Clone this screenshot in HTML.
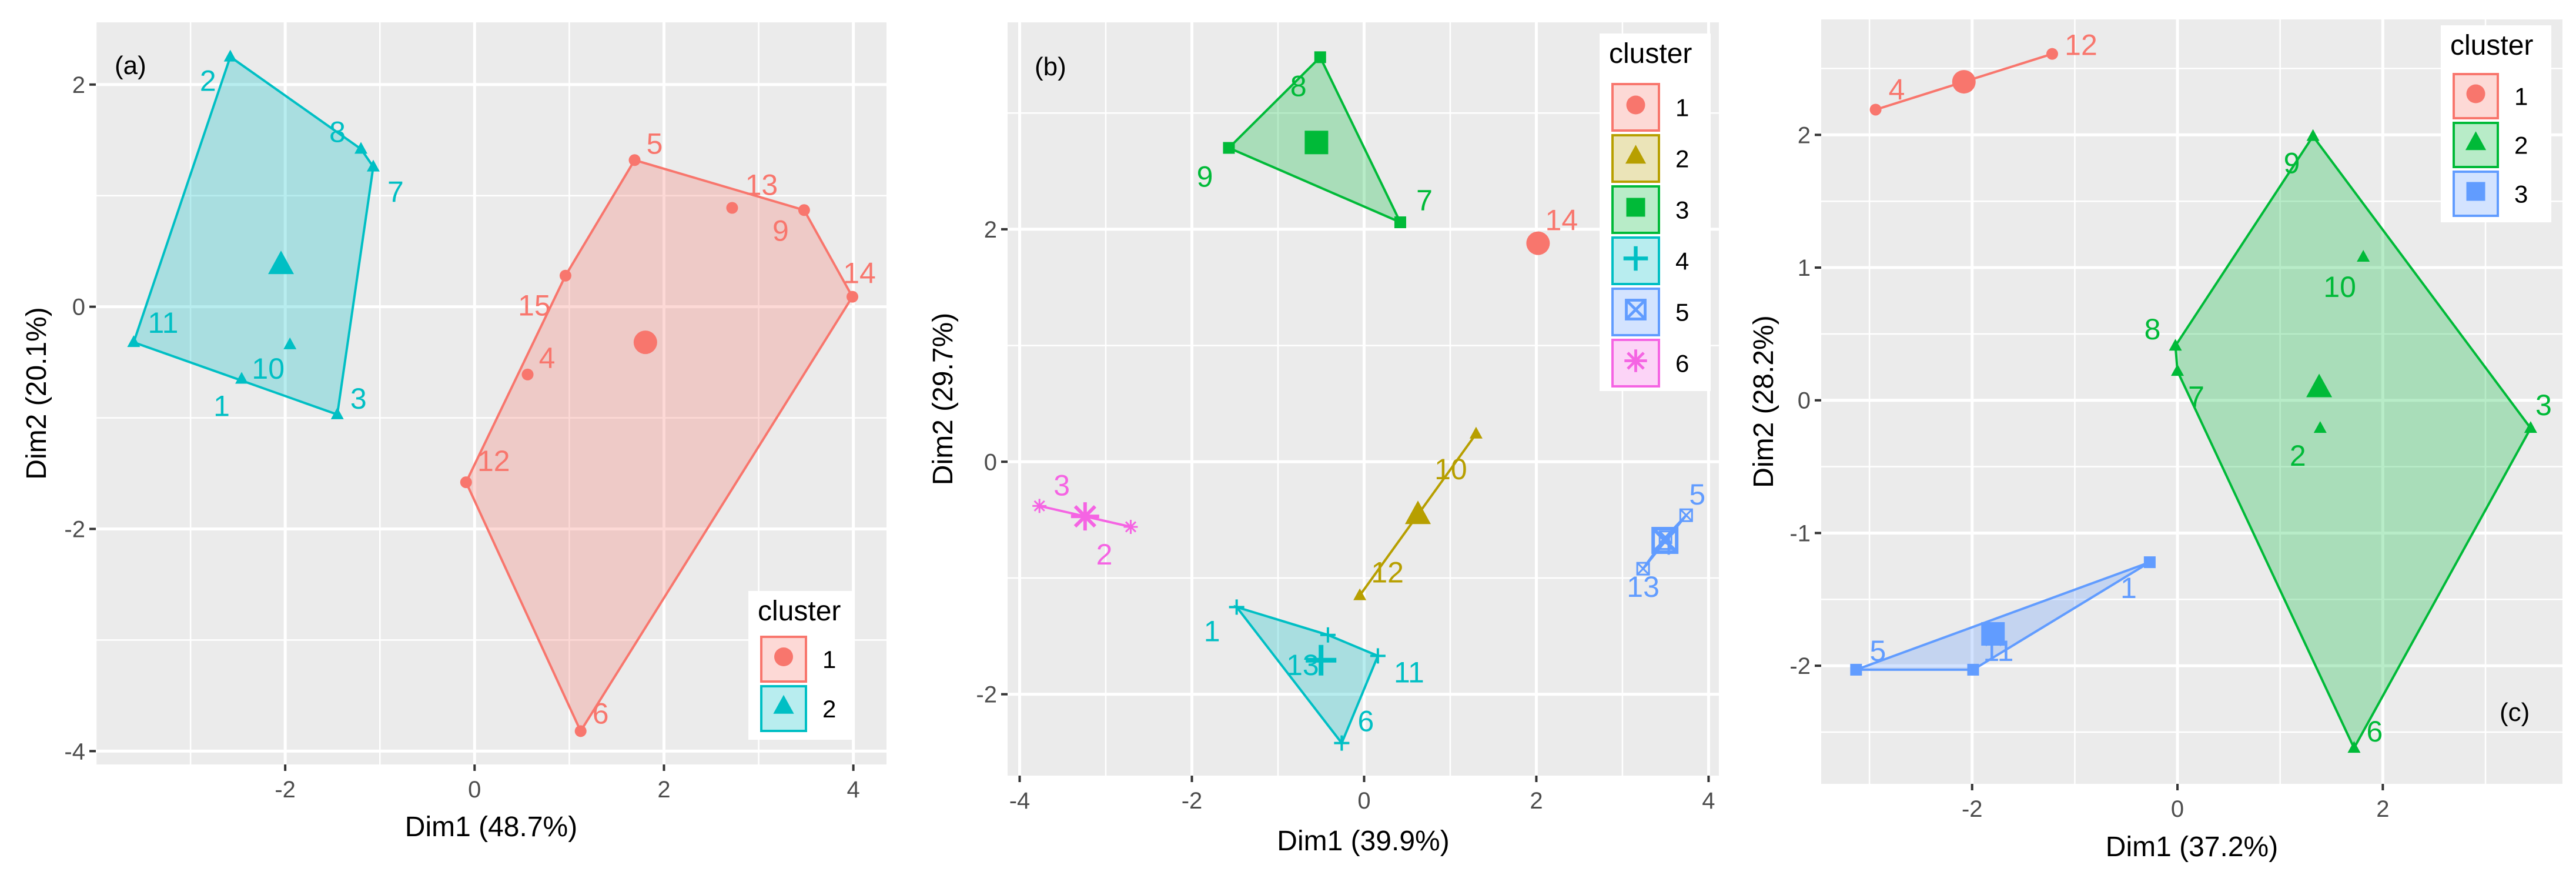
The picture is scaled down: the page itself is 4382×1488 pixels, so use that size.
<!DOCTYPE html>
<html><head><meta charset="utf-8"><style>
html,body{margin:0;padding:0;background:#fff;}
svg{display:block;font-family:"Liberation Sans",sans-serif;}
</style></head><body>
<svg id="chart" width="4382" height="1488" viewBox="0 0 4382 1488" xmlns="http://www.w3.org/2000/svg"></svg>
<script>
// ---- Panel (a) data ----
const aIds = [2,8,7,3,1,11,10, 5,13,9,14,15,4,12,6];
const aX = [-2.58,-1.2,-1.07,-1.45,-2.46,-3.6,-1.95, 1.69,2.72,3.48,3.99,0.96,0.56,-0.09,1.12];
const aY = [2.25,1.42,1.26,-0.97,-0.65,-0.32,-0.34, 1.32,0.89,0.87,0.09,0.28,-0.61,-1.58,-3.82];
const aCl = [2,2,2,2,2,2,2, 1,1,1,1,1,1,1,1];
const aXTicks = [-2,0,2,4];
const aYTicks = [-4,-2,0,2];
// ---- Panel (b) data ----
const bIds = [8,9,7, 14, 10,12, 5,4,13, 3,2, 1,13,11,6];
const bX = [-0.51,-1.57,0.42, 2.02, 1.30,-0.05, 3.74,3.5,3.24, -3.77,-2.71, -1.48,-0.42,0.16,-0.26];
const bY = [3.48,2.70,2.06, 1.88, 0.24,-1.15, -0.46,-0.65,-0.92, -0.38,-0.56, -1.25,-1.49,-1.67,-2.42];
const bCl = [3,3,3, 1, 2,2, 5,5,5, 6,6, 4,4,4,4];
const bXTicks = [-4,-2,0,2,4];
const bYTicks = [-2,0,2];
// ---- Panel (c) data ----
const cIds = [4,12, 9,10,8,7,3,2,6, 1,5,11];
const cX = [-2.94,-1.22, 1.32,1.81,-0.02,0,3.44,1.39,1.72, -0.27,-3.13,-1.99];
const cY = [2.19,2.61, 1.99,1.08,0.41,0.22,-0.21,-0.21,-2.62, -1.22,-2.03,-2.03];
const cCl = [1,1, 2,2,2,2,2,2,2, 3,3,3];
const cXTicks = [-2,0,2];
const cYTicks = [-2,-1,0,1,2];

// label placement (styling, px offsets of label centre from its point)
const aLab = [[-38,40],[-40,-30],[38,42],[36,-28],[-34,45],[50,-34],[-37,40],[34,-29],[50,-40],[-40,34],[12,-41],[-53,50],[33,-29],[47,-37],[34,-31]];
const bLab = [[-37,48],[-41,48],[41,-38],[40,-40],[-43,59],[47,-40],[19,-36],[0,12],[0,30],[38,-36],[-45,46],[-42,40],[-43,50],[53,27],[41,-38]];
const cLab = [[36,-35],[49,-16],[-36,45],[-40,50],[-39,-29],[32,43],[22,-40],[-38,46],[35,-29],[-36,43],[37,-33],[43,-33]];

const NS="http://www.w3.org/2000/svg";
const svg=document.getElementById('chart');
function mk(tag,attrs,parent){const e=document.createElementNS(NS,tag);for(const k in attrs)e.setAttribute(k,attrs[k]);(parent||svg).appendChild(e);return e;}

function hull(pts){
  if(pts.length<3)return pts.slice();
  const p=pts.slice().sort((a,b)=>a[0]-b[0]||a[1]-b[1]);
  const cr=(o,a,b)=>(a[0]-o[0])*(b[1]-o[1])-(a[1]-o[1])*(b[0]-o[0]);
  const lo=[],up=[];
  for(const q of p){while(lo.length>=2&&cr(lo[lo.length-2],lo[lo.length-1],q)<=0)lo.pop();lo.push(q);}
  for(let i=p.length-1;i>=0;i--){const q=p[i];while(up.length>=2&&cr(up[up.length-2],up[up.length-1],q)<=0)up.pop();up.push(q);}
  up.pop();lo.pop();return lo.concat(up);
}

function shape(g,type,x,y,s,col){
  if(type==='circle')return mk('circle',{cx:x,cy:y,r:s,fill:col},g);
  if(type==='triangle')return mk('polygon',{points:`${x},${y-s*1.2} ${x-s*1.1},${y+s*0.8} ${x+s*1.1},${y+s*0.8}`,fill:col},g);
  if(type==='square')return mk('rect',{x:x-s,y:y-s,width:2*s,height:2*s,fill:col},g);
  if(type==='plus'){return mk('path',{d:`M${x-s*1.3},${y}H${x+s*1.3}M${x},${y-s*1.3}V${y+s*1.3}`,stroke:col,'stroke-width':Math.max(3,s*0.4),fill:'none'},g);}
  if(type==='sqcross'){mk('rect',{x:x-s,y:y-s,width:2*s,height:2*s,fill:'none',stroke:col,'stroke-width':Math.max(2,s*0.3)},g);return mk('path',{d:`M${x-s},${y-s}L${x+s},${y+s}M${x+s},${y-s}L${x-s},${y+s}`,stroke:col,'stroke-width':Math.max(2,s*0.3)},g);}
  if(type==='asterisk'){return mk('path',{d:`M${x-s*1.2},${y}H${x+s*1.2}M${x-s*0.85},${y-s*0.85}L${x+s*0.85},${y+s*0.85}M${x+s*0.85},${y-s*0.85}L${x-s*0.85},${y+s*0.85}M${x},${y-s*1.2}V${y+s*1.2}`,stroke:col,'stroke-width':Math.max(2,s*0.3)},g);}
}

function panel(cfg){
  const {name,L,T,R,B,x0,x1,y0,y1,ids,xs,ys,cl,lab,xt,yt,colors,shapes,xTitle,yTitle,legend,tag,tagPos}=cfg;
  const g=mk('g',{});
  
  
  const sx=v=>L+(v-x0)/(x1-x0)*(R-L);
  const sy=v=>B-(v-y0)/(y1-y0)*(B-T);
  const bg=mk('rect',{x:L,y:T,width:R-L,height:B-T,fill:'#ebebeb'},g);
  
  
  const step=xt[1]-xt[0], ystep=yt[1]-yt[0];
  for(let v=Math.ceil(x0/(step/2))*(step/2);v<=x1;v+=step/2){mk('line',{x1:sx(v),x2:sx(v),y1:T,y2:B,stroke:'#fff','stroke-width':xt.includes(+v.toFixed(3))?5:2.5},g);}
  for(let v=Math.ceil(y0/(ystep/2))*(ystep/2);v<=y1;v+=ystep/2){mk('line',{y1:sy(v),y2:sy(v),x1:L,x2:R,stroke:'#fff','stroke-width':yt.includes(+v.toFixed(3))?5:2.5},g);}
  xt.forEach(v=>{mk('line',{x1:sx(v),x2:sx(v),y1:B,y2:B+11,stroke:'#333','stroke-width':4},g);
    const t=mk('text',{x:sx(v),y:B+56,'text-anchor':'middle','font-size':40,fill:'#4d4d4d'},g);t.textContent=v;
    });
  yt.forEach(v=>{mk('line',{y1:sy(v),y2:sy(v),x1:L-11,x2:L,stroke:'#333','stroke-width':4},g);
    const t=mk('text',{x:L-18,y:sy(v)+14,'text-anchor':'end','font-size':40,fill:'#4d4d4d'},g);t.textContent=v;
    });
  const xtt=mk('text',{x:(L+R)/2,y:xTitle.y,'text-anchor':'middle','font-size':48,fill:'#000'},g);xtt.textContent=xTitle.t;
  
  const ytt=mk('text',{x:yTitle.x,y:(T+B)/2,'text-anchor':'middle','font-size':48,fill:'#000',transform:`rotate(-90 ${yTitle.x} ${(T+B)/2})`},g);ytt.textContent=yTitle.t;
  
  const clusters=[...new Set(cl)].sort((a,b)=>a-b);
  clusters.forEach(c=>{
    const idx=cl.map((v,i)=>v===c?i:-1).filter(i=>i>=0);
    const col=colors[c-1];
    const cg=mk('g',{},g);
    
    
    const pts=idx.map(i=>[sx(xs[i]),sy(ys[i])]);
    const h=hull(pts);
    if(h.length>=2){const poly=mk('polygon',{points:h.map(p=>p.join(',')).join(' '),fill:col,'fill-opacity':0.28,stroke:col,'stroke-width':4},cg);
      }
    const mx=idx.reduce((s,i)=>s+xs[i],0)/idx.length, my=idx.reduce((s,i)=>s+ys[i],0)/idx.length;
    idx.forEach(i=>{const p=shape(cg,shapes[c-1],sx(xs[i]),sy(ys[i]),10,col);
      
      const o=lab[i]||[20,-20];
      const t=mk('text',{x:sx(xs[i])+o[0],y:sy(ys[i])+o[1]+18,'text-anchor':'middle','font-size':50,fill:col},cg);t.textContent=ids[i];
      });
    const ce=shape(cg,shapes[c-1],sx(mx),sy(my),20,col);
    
  });
  const tg=mk('text',{x:tagPos[0],y:tagPos[1],'font-size':44,fill:'#000'},g);tg.textContent=tag;
  
  const lg=mk('g',{},g);
  
  mk('rect',{x:legend.x,y:legend.y,width:legend.w,height:legend.h,fill:'#fff'},lg);
  const lt=mk('text',{x:legend.x+16,y:legend.y+50,'font-size':48,fill:'#000'},lg);lt.textContent='cluster';
  
  clusters.forEach((c,k)=>{
    const col=colors[c-1];
    const ky=legend.ky+k*legend.step, kx=legend.x+22, ks=legend.step-8;
    const e=mk('g',{},lg);
    
    mk('rect',{x:kx,y:ky,width:ks,height:ks,fill:col,'fill-opacity':0.28,stroke:col,'stroke-width':4},e);
    shape(e,shapes[c-1],kx+ks/2,ky+ks/2-4,16,col);
    const t=mk('text',{x:kx+ks+28,y:ky+ks/2+15,'font-size':42,fill:'#000'},e);t.textContent=c;
  });
}

panel({name:'panel-a',L:163,T:38,R:1508,B:1300,x0:-4.0,x1:4.35,y0:-4.12,y1:2.56,ids:aIds,xs:aX,ys:aY,cl:aCl,lab:aLab,xt:aXTicks,yt:aYTicks,
  colors:['#F8766D','#00BFC4'],shapes:['circle','triangle'],xTitle:{t:'Dim1 (48.7%)',y:1422},yTitle:{t:'Dim2 (20.1%)',x:78},
  legend:{x:1273,y:1005,w:177,h:253,ky:1083,step:84},tag:'(a)',tagPos:[195,126]});
panel({name:'panel-b',L:1714,T:38,R:2924,B:1319,x0:-4.14,x1:4.12,y0:-2.70,y1:3.78,ids:bIds,xs:bX,ys:bY,cl:bCl,lab:bLab,xt:bXTicks,yt:bYTicks,
  colors:['#F8766D','#B79F00','#00BA38','#00BFC4','#619CFF','#F564E3'],shapes:['circle','triangle','square','plus','sqcross','asterisk'],
  xTitle:{t:'Dim1 (39.9%)',y:1446},yTitle:{t:'Dim2 (29.7%)',x:1620},
  legend:{x:2721,y:57,w:189,h:608,ky:143,step:87},tag:'(b)',tagPos:[1760,128]});
panel({name:'panel-c',L:3098,T:33,R:4359,B:1333,x0:-3.47,x1:3.75,y0:-2.89,y1:2.87,ids:cIds,xs:cX,ys:cY,cl:cCl,lab:cLab,xt:cXTicks,yt:cYTicks,
  colors:['#F8766D','#00BA38','#619CFF'],shapes:['circle','triangle','square'],
  xTitle:{t:'Dim1 (37.2%)',y:1456},yTitle:{t:'Dim2 (28.2%)',x:3016},
  legend:{x:4152,y:43,w:188,h:335,ky:126,step:83},tag:'(c)',tagPos:[4252,1226]});
</script>
</body></html>
